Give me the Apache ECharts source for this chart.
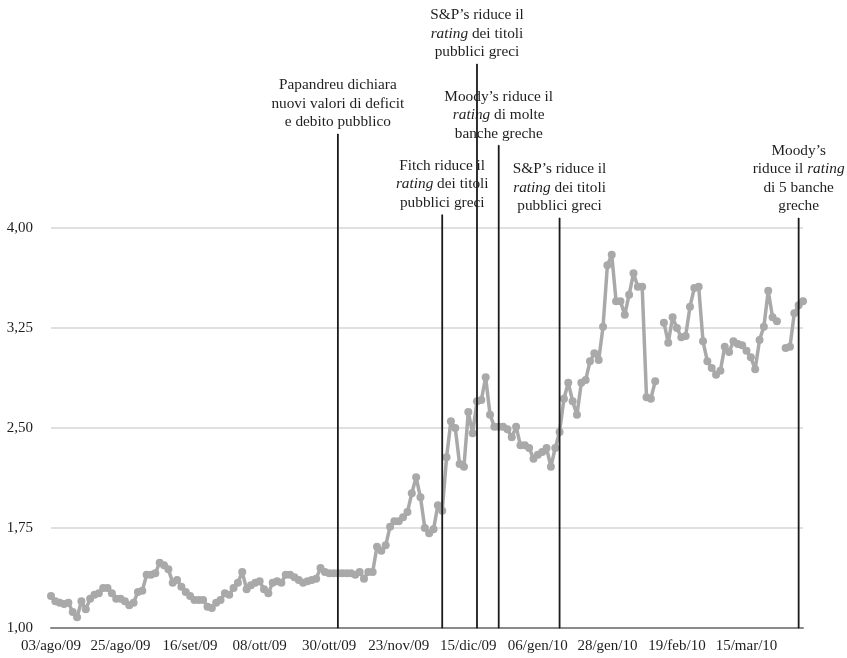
<!DOCTYPE html>
<html>
<head>
<meta charset="utf-8">
<script src="https://cdn.jsdelivr.net/npm/echarts@6/dist/echarts.min.js"></script>
<style>
html,body{margin:0;padding:0;background:#fff;}
#chart{width:847px;height:658px;}
</style>
</head>
<body>
<div id="chart"></div>
<script>
// Tick labels shown on the x axis (every 16th trading day)
const tickLabels = ['03/ago/09','25/ago/09','16/set/09','08/ott/09','30/ott/09','23/nov/09','15/dic/09','06/gen/10','28/gen/10','19/feb/10','15/mar/10'];

// Series values (one per weekday starting 03/ago/09)
const values = [
  1.24,1.20,1.19,1.18,1.19,1.12,1.08,1.20,1.14,1.22,
  1.25,1.26,1.30,1.30,1.26,1.22,1.22,1.20,1.17,1.19,
  1.27,1.28,1.40,1.40,1.41,1.49,1.47,1.44,1.34,1.36,
  1.31,1.27,1.24,1.21,1.21,1.21,1.16,1.15,1.19,1.21,
  1.26,1.25,1.30,1.34,1.42,1.29,1.32,1.34,1.35,1.29,
  1.26,1.34,1.35,1.34,1.40,1.40,1.38,1.36,1.34,1.35,
  1.36,1.37,1.45,1.42,1.41,1.41,1.41,1.41,1.41,1.41,
  1.40,1.42,1.37,1.42,1.42,1.61,1.58,1.62,1.76,1.80,
  1.80,1.83,1.87,2.01,2.13,1.98,1.75,1.71,1.74,1.92,
  1.88,2.28,2.55,2.50,2.23,2.21,2.62,2.46,2.70,2.71,
  2.88,2.60,2.51,2.51,2.51,2.49,2.43,2.51,2.37,2.37,
  2.35,2.27,2.30,2.32,2.35,2.21,2.35,2.47,2.72,2.84,
  2.70,2.60,2.84,2.86,3.00,3.06,3.01,3.26,3.72,3.80,
  3.45,3.45,3.35,3.50,3.66,3.56,3.56,2.73,2.72,2.85,
  null,3.29,3.14,3.33,3.25,3.18,3.19,3.41,3.55,3.56,
  3.15,3.00,2.95,2.90,2.93,3.11,3.07,3.15,3.13,3.12,
  3.08,3.03,2.94,3.16,3.26,3.53,3.33,3.30,null,3.10,
  3.11,3.36,3.42,3.45
];

// Event annotations
const eventIndex = [66, 90, 98, 103, 117, 172];
const eventHeight = [4.705, 4.10, 5.23, 4.62, 4.075, 4.075];
const eventText = [
  '{n|Papandreu dichiara}\n{n|nuovi valori di deficit}\n{n|e debito pubblico}',
  '{n|Fitch riduce il}\n{i|rating}{n| dei titoli}\n{n|pubblici greci}',
  '{n|S&P’s riduce il}\n{i|rating}{n| dei titoli}\n{n|pubblici greci}',
  '{n|Moody’s riduce il}\n{i|rating}{n| di molte}\n{n|banche greche}',
  '{n|S&P’s riduce il}\n{i|rating}{n| dei titoli}\n{n|pubblici greci}',
  '{n|Moody’s}\n{n|riduce il }{i|rating}\n{n|di 5 banche}\n{n|greche}'
];

// Build weekday categories
const months = ['gen','feb','mar','apr','mag','giu','lug','ago','set','ott','nov','dic'];
const categories = [];
const d = new Date(2009, 7, 3);
while (categories.length < values.length) {
  const wd = d.getDay();
  if (wd !== 0 && wd !== 6) {
    const dd = String(d.getDate()).padStart(2, '0');
    const yy = String(d.getFullYear()).slice(2);
    categories.push(dd + '/' + months[d.getMonth()] + '/' + yy);
  }
  d.setDate(d.getDate() + 1);
}

const FONT = 'Liberation Serif';
const TXT = '#1e1e1e';

const eventSeries = eventIndex.map((idx, k) => ({
  type: 'line',
  xAxisIndex: 1,
  yAxisIndex: 1,
  z: 5,
  symbol: 'circle',
  symbolSize: 1,
  itemStyle: { color: '#1a1a1a' },
  lineStyle: { color: '#1a1a1a', width: 1.8 },
  silent: true,
  data: [
    { value: [idx, 1] },
    {
      value: [idx, eventHeight[k]],
      label: {
        show: true,
        position: 'top',
        distance: 2,
        align: 'center',
        formatter: eventText[k],
        rich: {
          n: { fontFamily: FONT, fontSize: 15.3, color: TXT, lineHeight: 18.5 },
          i: { fontFamily: FONT, fontSize: 15.3, color: TXT, lineHeight: 18.5, fontStyle: 'italic' }
        }
      }
    }
  ]
}));

const chart = echarts.init(document.getElementById('chart'), null, { renderer: 'canvas' });
chart.setOption({
  animation: false,
  backgroundColor: '#ffffff',
  grid: [
    { left: 51, right: 44, top: 228, bottom: 30 },
    { left: 51, right: 44, top: 28, bottom: 30 }
  ],
  xAxis: [
    {
      type: 'category',
      gridIndex: 0,
      data: categories,
      boundaryGap: false,
      axisLine: { lineStyle: { color: '#8a8a8a', width: 2 } },
      axisTick: { show: false },
      axisLabel: {
        interval: 15,
        margin: 11,
        fontFamily: FONT,
        fontSize: 15,
        color: TXT,
        formatter: (v, i) => (i % 16 === 0 && tickLabels[i / 16]) ? tickLabels[i / 16] : v
      },
      splitLine: { show: false }
    },
    {
      type: 'category',
      gridIndex: 1,
      data: categories,
      boundaryGap: false,
      show: false
    }
  ],
  yAxis: [
    {
      type: 'value',
      gridIndex: 0,
      min: 1,
      max: 4,
      interval: 0.75,
      axisLine: { show: false },
      axisTick: { show: false },
      axisLabel: {
        margin: 18,
        fontFamily: FONT,
        fontSize: 15,
        color: TXT,
        formatter: v => v.toFixed(2).replace('.', ',')
      },
      splitLine: { lineStyle: { color: '#d6d6d6', width: 1.5 } }
    },
    {
      type: 'value',
      gridIndex: 1,
      min: 1,
      max: 5.5,
      show: false,
      splitLine: { show: false }
    }
  ],
  series: [
    {
      type: 'line',
      xAxisIndex: 0,
      yAxisIndex: 0,
      data: values,
      connectNulls: false,
      symbol: 'circle',
      symbolSize: 8,
      showSymbol: true,
      showAllSymbol: true,
      itemStyle: { color: '#a9a9a9' },
      lineStyle: { color: '#a9a9a9', width: 3.5 },
      z: 2
    }
  ].concat(eventSeries)
});
</script>
</body>
</html>
